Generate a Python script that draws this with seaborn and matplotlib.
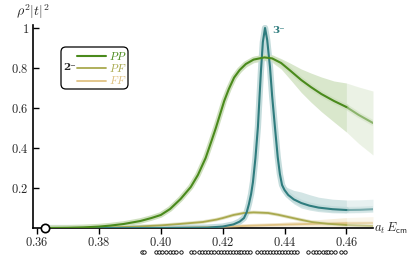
import numpy as np
import pandas as pd
import matplotlib
matplotlib.use('Agg')
import matplotlib.pyplot as plt
import seaborn as sns
from matplotlib.patches import FancyBboxPatch

sns.set_theme(style='ticks')
plt.rcParams['mathtext.fontset'] = 'cm'
plt.rcParams['font.family'] = ['DejaVu Serif']

# values
threshold = 0.3626
cut = 0.46  # beyond this the curves are drawn faded

# PP amplitude (2-)
e_pp = [0.3626, 0.370, 0.375, 0.380, 0.3837, 0.388, 0.3934, 0.397, 0.400, 0.403,
        0.4064, 0.4097, 0.412, 0.4145, 0.4165, 0.4178, 0.4192, 0.4205, 0.422, 0.4237,
        0.4255, 0.4275, 0.430, 0.4335, 0.436, 0.4389, 0.442, 0.4454, 0.4485, 0.4519,
        0.456, 0.460, 0.464, 0.4686]
pp = [0, 0.001, 0.003, 0.007, 0.012, 0.02, 0.035, 0.05, 0.065, 0.095,
      0.145, 0.205, 0.265, 0.35, 0.44, 0.50, 0.57, 0.635, 0.695, 0.752,
      0.79, 0.82, 0.842, 0.853, 0.848, 0.825, 0.785, 0.74, 0.705, 0.67,
      0.635, 0.605, 0.565, 0.525]
pp_dn = [0, 0.001, 0.002, 0.003, 0.004, 0.005, 0.006, 0.007, 0.008, 0.009,
         0.01, 0.012, 0.013, 0.015, 0.016, 0.017, 0.017, 0.017, 0.017, 0.017,
         0.016, 0.016, 0.016, 0.016, 0.02, 0.03, 0.045, 0.062, 0.075, 0.088,
         0.105, 0.125, 0.143, 0.16]
pp_up = [0, 0.001, 0.002, 0.003, 0.004, 0.005, 0.006, 0.007, 0.008, 0.009,
         0.01, 0.012, 0.013, 0.015, 0.016, 0.017, 0.017, 0.017, 0.017, 0.017,
         0.016, 0.016, 0.016, 0.016, 0.018, 0.022, 0.038, 0.055, 0.07, 0.085,
         0.10, 0.12, 0.14, 0.16]

# PF amplitude (2-)
e_pf = [0.3626, 0.375, 0.384, 0.392, 0.400, 0.406, 0.4136, 0.418, 0.4201, 0.4235,
        0.4269, 0.430, 0.4347, 0.438, 0.4412, 0.445, 0.4487, 0.454, 0.460, 0.4686]
pf = [0, 0.001, 0.003, 0.007, 0.013, 0.02, 0.03, 0.042, 0.05, 0.065,
      0.075, 0.078, 0.075, 0.066, 0.055, 0.042, 0.03, 0.021, 0.015, 0.01]
pf_err = [0, 0, 0.001, 0.001, 0.002, 0.002, 0.003, 0.003, 0.003, 0.004,
          0.004, 0.004, 0.004, 0.004, 0.004, 0.004, 0.004, 0.005, 0.006, 0.007]

# FF amplitude (2-)
e_ff = [0.3626, 0.390, 0.400, 0.410, 0.420, 0.430, 0.440, 0.450, 0.460, 0.4686]
ff = [0, 0.0005, 0.001, 0.003, 0.006, 0.012, 0.017, 0.021, 0.024, 0.025]
ff_dn = [0, 0, 0, 0.001, 0.002, 0.004, 0.008, 0.013, 0.018, 0.02]
ff_up = [0, 0, 0, 0.001, 0.003, 0.007, 0.012, 0.02, 0.028, 0.032]

# 3- amplitude
e_3m = [0.3626, 0.400, 0.415, 0.420, 0.4235, 0.4255, 0.4269, 0.4278, 0.4285, 0.4292,
        0.4298, 0.4306, 0.4314, 0.4319, 0.4324, 0.4330, 0.4337, 0.4344, 0.4353, 0.4360,
        0.4369, 0.4378, 0.4385, 0.4392, 0.4400, 0.4412, 0.4430, 0.4454, 0.4480, 0.451,
        0.4555, 0.460, 0.4645, 0.4686]
t3 = [0, 0, 0.002, 0.007, 0.018, 0.032, 0.05, 0.08, 0.12, 0.17,
      0.23, 0.35, 0.505, 0.65, 0.79, 0.93, 1.0, 0.94, 0.805, 0.66,
      0.505, 0.355, 0.27, 0.215, 0.19, 0.165, 0.143, 0.125, 0.112, 0.102,
      0.094, 0.09, 0.091, 0.094]
t3_dn = [0] * 24 + [0.01, 0.02, 0.022, 0.025, 0.022, 0.02, 0.018, 0.015, 0.015, 0.015]
t3_up = [0] * 24 + [0.02, 0.035, 0.045, 0.055, 0.055, 0.052, 0.05, 0.05, 0.05, 0.05]

# finite-volume energy levels shown under the axis
levels = [0.3938, 0.3947, 0.3983, 0.3993, 0.4003, 0.4016, 0.4029, 0.4038, 0.4048, 0.4064,
          0.4097, 0.4106, 0.4123, 0.4132, 0.4142, 0.4152, 0.4162, 0.4171, 0.4184, 0.4194,
          0.4204, 0.4214, 0.4223, 0.4233, 0.4243, 0.4253, 0.4259, 0.4269, 0.4279, 0.4288,
          0.4311, 0.4324, 0.4334, 0.4344, 0.4353, 0.4363, 0.4373, 0.4382, 0.4392, 0.4402,
          0.4412, 0.4421, 0.4431, 0.4441, 0.4477, 0.4493, 0.4503, 0.4512, 0.4525, 0.4535,
          0.4542, 0.4551, 0.4564, 0.4581, 0.4594]

xticks = [0.36, 0.38, 0.40, 0.42, 0.44, 0.46]
xtick_labels = ['0.36', '0.38', '0.40', '0.42', '0.44', '0.46']
yticks = [0.2, 0.4, 0.6, 0.8, 1.0]
ytick_labels = ['0.2', '0.4', '0.6', '0.8', '1']

c_pp, b_pp, h_pp = '#4a8a1c', '#d9e7cc', '#cfe0bf'
c_pf, b_pf, h_pf = '#a9a94e', '#ececd6', '#e4e4c6'
c_ff, b_ff, h_ff = '#dfc283', '#f7eedb', '#f3e7cd'
c_3m, b_3m, h_3m = '#2f7c7e', '#d3e5e5', '#c4dcdc'


def draw(ax, e, y, dn, up, color, band, halo, label, lw, halo_lw):
    df = pd.DataFrame({'E': e, 'y': y})
    df['lo'] = df['y'] - np.array(dn)
    df['hi'] = df['y'] + np.array(up)
    main = df[df['E'] <= cut]
    extra = df[df['E'] >= cut]
    ax.fill_between(main['E'], main['lo'], main['hi'], color=band, lw=0, zorder=1)
    ax.fill_between(extra['E'], extra['lo'], extra['hi'], color=band, alpha=0.5, lw=0, zorder=1)
    sns.lineplot(data=main, x='E', y='y', color=halo, lw=halo_lw, ax=ax, estimator=None, zorder=2)
    sns.lineplot(data=extra, x='E', y='y', color=halo, lw=halo_lw, alpha=0.5, ax=ax,
                 estimator=None, zorder=2)
    sns.lineplot(data=main, x='E', y='y', color=color, lw=lw, ax=ax, estimator=None,
                 label=label, zorder=3)
    sns.lineplot(data=extra, x='E', y='y', color=color, lw=lw, alpha=0.55, ax=ax,
                 estimator=None, zorder=3)


fig, ax = plt.subplots(figsize=(4.08, 2.63), dpi=100)
fig.subplots_adjust(left=33 / 408, right=373 / 408, bottom=35 / 263, top=238 / 263)

draw(ax, e_ff, ff, ff_dn, ff_up, c_ff, b_ff, h_ff, '$FF$', 1.3, 2.5)
draw(ax, e_pf, pf, pf_err, pf_err, c_pf, b_pf, h_pf, '$PF$', 1.3, 2.5)
draw(ax, e_3m, t3, t3_dn, t3_up, c_3m, b_3m, h_3m, None, 1.5, 4.5)
draw(ax, e_pp, pp, pp_dn, pp_up, c_pp, b_pp, h_pp, '$PP$', 1.5, 4.0)

ax.plot(threshold, 0, 'o', ms=6, mfc='white', mec='black', mew=1.2, clip_on=False, zorder=10)
sns.scatterplot(x=levels, y=[-0.12] * len(levels), s=6, facecolor='white', edgecolor='black',
                linewidth=0.6, ax=ax, clip_on=False, zorder=10, legend=False)

ax.set_xlim(0.3587, 0.4686)
ax.set_ylim(0, 1.015)
ax.set_xticks(xticks, labels=['$' + t + '$' for t in xtick_labels])
ax.set_yticks(yticks, labels=['$' + t + '$' for t in ytick_labels])
ax.tick_params(axis='x', direction='out', length=4, width=1, labelsize=9, pad=2, color='black')
ax.tick_params(axis='y', direction='in', length=4, width=1, labelsize=9, pad=3, color='black')
ax.set_xlabel('')
ax.set_ylabel('')
sns.despine(ax=ax)
for s in ['left', 'bottom']:
    ax.spines[s].set_color('black')
    ax.spines[s].set_linewidth(1.2)

ax.text(0.4360, 0.985, '3\u207b', color=c_3m, fontsize=7.5, fontweight='bold',
        ha='left', va='center')

# legend
box = FancyBboxPatch((61 / 408, 1 - 89 / 263), 67 / 408, 42 / 263,
                     boxstyle='round,pad=0,rounding_size=0.012', mutation_aspect=408 / 263,
                     transform=fig.transFigure, fc='white', ec='black', lw=0.9,
                     clip_on=False, zorder=6)
ax.add_patch(box)
handles, labels = ax.get_legend_handles_labels()
order = [labels.index('$PP$'), labels.index('$PF$'), labels.index('$FF$')]
leg = ax.legend([handles[i] for i in order], [labels[i] for i in order],
                loc='upper left', bbox_to_anchor=(77 / 408, 1 - 50 / 263),
                bbox_transform=fig.transFigure, frameon=False, fontsize=8,
                handlelength=2.6, handletextpad=0.3, labelspacing=0.02,
                borderpad=0, borderaxespad=0, labelcolor='linecolor')
leg.set_zorder(7)
ax.text(63 / 408, 1 - 68 / 263, '2\u207b', transform=fig.transFigure,
        fontsize=7.5, fontweight='bold', ha='left', va='center', zorder=8)

fig.text(33 / 408, 1 - 12 / 263, r'$\rho^2|t|^2$', fontsize=10, ha='center', va='center')
fig.text(374 / 408, 1 - 228 / 263, r'$a_t\,E_{\mathsf{cm}}$', fontsize=9, ha='left', va='center')

fig.savefig('out.png', dpi=100)
